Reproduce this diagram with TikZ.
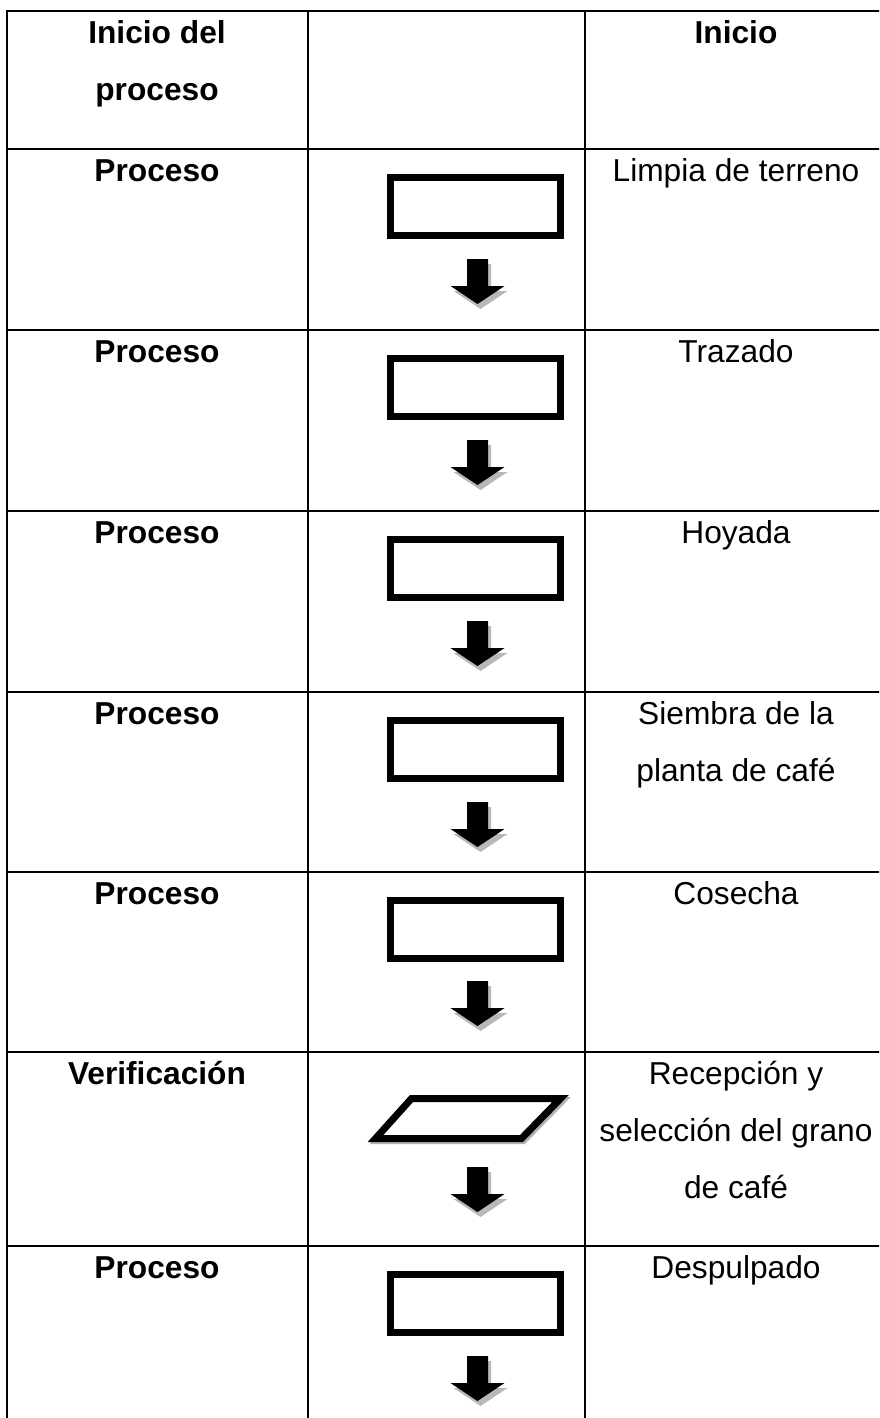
\documentclass[tikz,border=0pt]{standalone}
\usepackage{fontspec}
\setmainfont{Liberation Sans}
\usetikzlibrary{shadows}
\begin{document}
\begin{tikzpicture}[x=0.5pt,y=-0.5pt,
  grid/.style={line width=1.2pt,line cap=rect},
  cell/.style={anchor=base,inner sep=0pt,font=\fontsize{15.85}{19}\selectfont},
  headcell/.style={cell,font=\fontsize{15.85}{19}\selectfont\bfseries},
  procbox/.style={draw=black,line width=3.5pt,fill=white,minimum width=85pt,minimum height=29pt,inner sep=0pt,
    drop shadow={shadow xshift=1pt,shadow yshift=-1pt,fill=black!30,opacity=1}},
  downarrow/.pic={
    \begin{scope}[shift={(3,5)}]
      \fill[black!28] (-10.5,0) -- (10.5,0) -- (10.5,27) -- (27,27) -- (0,45) -- (-27,27) -- (-10.5,27) -- cycle;
    \end{scope}
    \fill[black] (-10.5,0) -- (10.5,0) -- (10.5,27) -- (27,27) -- (0,45) -- (-27,27) -- (-10.5,27) -- cycle;
  }]
\useasboundingbox (0,0) rectangle (879,1418);
\clip (0,0) rectangle (879,1418);
\fill[white] (0,0) rectangle (879,1418);

% table grid
\draw[grid] (7,11) -- (900,11);
\draw[grid] (7,11) -- (7,1430);
\draw[grid] (308,11) -- (308,1430);
\draw[grid] (585,11) -- (585,1430);
\draw[grid] (887,11) -- (887,1430);
\foreach \y in {149,330,511,692,872,1052,1246}
  \draw[grid] (7,\y) -- (900,\y);

% header
\node[headcell] (h1a) at (157,43.5) {Inicio del};
\node[headcell] (h1b) at (157,100.5) {proceso};
\node[headcell] (h3) at (736,43.5) {Inicio};

% left column labels
\node[headcell] (l1) at (157,181.5) {Proceso};
\node[headcell] (l2) at (157,362.5) {Proceso};
\node[headcell] (l3) at (157,543.5) {Proceso};
\node[headcell] (l4) at (157,724.5) {Proceso};
\node[headcell] (l5) at (157,904.5) {Proceso};
\node[headcell] (l6) at (157,1084.5) {Verificación};
\node[headcell] (l7) at (157,1278.5) {Proceso};

% right column descriptions
\node[cell] (d1) at (736,181.5) {Limpia de terreno};
\node[cell] (d2) at (736,362.5) {Trazado};
\node[cell] (d3) at (736,543.5) {Hoyada};
\node[cell] (d4a) at (736,724.5) {Siembra de la};
\node[cell] (d4b) at (736,781.5) {planta de café};
\node[cell] (d5) at (736,904.5) {Cosecha};
\node[cell] (d6a) at (736,1084.5) {Recepción y};
\node[cell] (d6b) at (736,1141.5) {selección del grano};
\node[cell] (d6c) at (736,1198.5) {de café};
\node[cell] (d7) at (736,1278.5) {Despulpado};

% process boxes
\node[procbox] (b1) at (475.5,206.5) {};
\node[procbox] (b2) at (475.5,387.5) {};
\node[procbox] (b3) at (475.5,568.5) {};
\node[procbox] (b4) at (475.5,749.5) {};
\node[procbox] (b5) at (475.5,929.5) {};
\node[procbox] (b7) at (475.5,1303.5) {};

% verification parallelogram
\coordinate (p1) at (411.5,1098.5);
\coordinate (p2) at (560.5,1098.5);
\coordinate (p3) at (521.5,1138.5);
\coordinate (p4) at (375.5,1138.5);
\draw[black!30,line width=3.5pt,line join=miter] ([shift={(2,2)}]p1) -- ([shift={(2,2)}]p2) -- ([shift={(2,2)}]p3) -- ([shift={(2,2)}]p4) -- cycle;
\draw[black,fill=white,line width=3.5pt,line join=miter] (p1) -- (p2) -- (p3) -- (p4) -- cycle;

% block arrows
\pic (a1) at (477.5,259) {downarrow};
\pic (a2) at (477.5,440) {downarrow};
\pic (a3) at (477.5,621) {downarrow};
\pic (a4) at (477.5,802) {downarrow};
\pic (a5) at (477.5,981) {downarrow};
\pic (a6) at (477.5,1167) {downarrow};
\pic (a7) at (477.5,1356) {downarrow};
\end{tikzpicture}
\end{document}
